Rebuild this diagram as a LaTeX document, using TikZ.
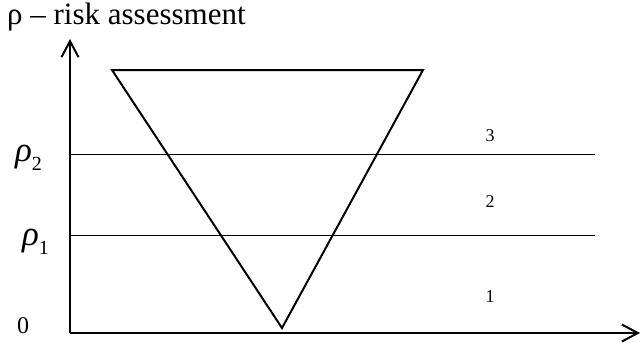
\documentclass[tikz,border=0pt]{standalone}
\usepackage{fontspec}
\setmainfont{Liberation Serif}
\usetikzlibrary{positioning, arrows.meta}

\newcommand{\rholevel}[1]{{\itshape ρ}\raisebox{-0.25em}{\fontsize{20}{20}\selectfont #1}}

\begin{document}
\begin{tikzpicture}[
    x=1pt, y=-1pt,
    axis/.style={line width=2pt, -{Straight Barb[length=16pt, width=17pt, line width=2pt]}},
    level/.style={line width=1pt},
    tri/.style={line width=2pt, line join=miter},
    zone/.style={font=\fontsize{18}{18}\selectfont},
    lab/.style={font=\fontsize{35}{35}\selectfont, inner sep=0pt},
]
\useasboundingbox (0,0) rectangle (641,343);

% axes
\coordinate (origin) at (70,333);
\coordinate (ytop) at (70,39);
\coordinate (xend) at (640,333);
\draw[axis] (origin) -- (ytop);
\draw[axis] (origin) -- (xend);

% levels rho_1 and rho_2
\coordinate (r2a) at (70,154);
\coordinate (r2b) at (595,154);
\coordinate (r1a) at (70,235);
\coordinate (r1b) at (595,235);
\draw[level] (r2a) -- (r2b);
\draw[level] (r1a) -- (r1b);

% inverted triangle
\coordinate (tl) at (112,70);
\coordinate (tr) at (423,70);
\coordinate (bot) at (282,328);
\draw[tri] (tl) -- (tr) -- (bot) -- cycle;

% labels
\node[font=\fontsize{31}{31}\selectfont, anchor=west, inner sep=0pt] (title) at (7,17) {ρ – risk assessment};
\node[lab, anchor=west] (rho2) at (15,158) {\rholevel{2}};
\node[lab, anchor=west] (rho1) at (22,242) {\rholevel{1}};
\node[font=\fontsize{24}{24}\selectfont] (zero) at (23,326) {0};
\node[zone] (z3) at (490,136) {3};
\node[zone] (z2) at (490,202) {2};
\node[zone] (z1) at (490,297) {1};

\end{tikzpicture}
\end{document}
